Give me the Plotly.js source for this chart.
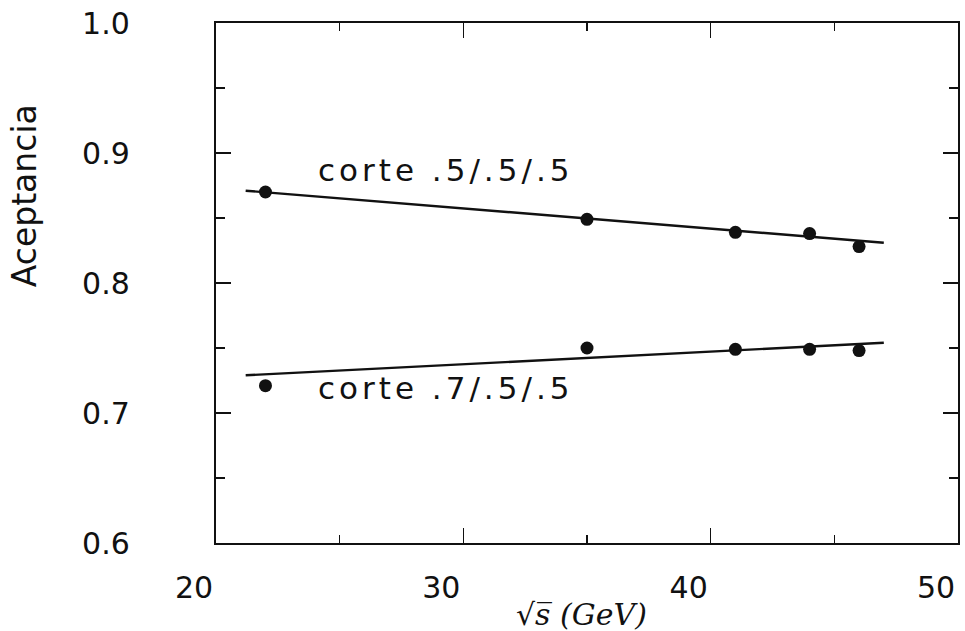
<!DOCTYPE html>
<html>
<head>
<meta charset="utf-8">
<script src="https://cdn.plot.ly/plotly-3.0.1.min.js"></script>
<style>
html,body{margin:0;padding:0;background:#fff;}
</style>
</head>
<body>
<div id="chart" style="width:965px;height:631px;"></div>
<script>
// Data
const energies = [22, 35, 41, 44, 46];
const accTop = [0.870, 0.849, 0.839, 0.838, 0.828];
const accBottom = [0.721, 0.750, 0.749, 0.749, 0.748];
const fitX = [21.2, 47.0];
const fitTop = [0.871, 0.831];
const fitBottom = [0.729, 0.754];
const labelTop = 'corte .5/.5/.5';
const labelBottom = 'corte .7/.5/.5';
const xTicks = [20, 30, 40, 50];
const yTicks = [0.6, 0.7, 0.8, 0.9, 1.0];
const yTickText = ['0.6', '0.7', '0.8', '0.9', '1.0'];

const ink = '#111';
const traces = [
  {x: fitX, y: fitTop, mode: 'lines', line: {color: ink, width: 2.4}, hoverinfo: 'skip'},
  {x: fitX, y: fitBottom, mode: 'lines', line: {color: ink, width: 2.4}, hoverinfo: 'skip'},
  {x: energies, y: accTop, mode: 'markers', marker: {color: ink, size: 13, symbol: 'circle'}},
  {x: energies, y: accBottom, mode: 'markers', marker: {color: ink, size: 13, symbol: 'circle'}}
];

const axisCommon = {
  showline: true, linecolor: ink, linewidth: 2.2, mirror: 'allticks',
  ticks: 'inside', ticklen: 15, tickwidth: 1.5, tickcolor: ink,
  showgrid: false, zeroline: false,
  tickfont: {family: 'DejaVu Sans', size: 30, color: ink}
};

const layout = {
  width: 965, height: 631,
  margin: {l: 216, r: 7, t: 23, b: 88},
  paper_bgcolor: '#fff', plot_bgcolor: '#fff',
  showlegend: false,
  xaxis: Object.assign({}, axisCommon, {
    range: [20, 50], tickvals: xTicks, ticklabelstandoff: 17, ticklabelshift: -22,
    minor: {dtick: 5, tick0: 20, ticks: 'inside', ticklen: 8, tickcolor: ink, tickwidth: 1.5}
  }),
  yaxis: Object.assign({}, axisCommon, {
    range: [0.6, 1.0], tickvals: yTicks, ticktext: yTickText, ticklabelstandoff: 78,
    minor: {dtick: 0.05, tick0: 0.6, ticks: 'inside', ticklen: 9, tickcolor: ink, tickwidth: 1.5}
  }),
  annotations: [
    {x: 25.17, y: 0.887, xref: 'x', yref: 'y', text: labelTop, showarrow: false,
     xanchor: 'left', yanchor: 'middle', font: {family: 'DejaVu Sans', size: 31, color: ink}},
    {x: 25.17, y: 0.719, xref: 'x', yref: 'y', text: labelBottom, showarrow: false,
     xanchor: 'left', yanchor: 'middle', font: {family: 'DejaVu Sans', size: 31, color: ink}},
    {x: -0.258, y: 0.668, xref: 'paper', yref: 'paper', text: 'Aceptancia', textangle: -90,
     showarrow: false, xanchor: 'center', yanchor: 'middle',
     font: {family: 'DejaVu Sans', size: 33, color: ink}},
    {x: 0.493, y: -0.138, xref: 'paper', yref: 'paper', text: '<i>√s̅ (GeV)</i>',
     showarrow: false, xanchor: 'center', yanchor: 'middle',
     font: {family: 'DejaVu Serif', size: 30, color: ink}}
  ]
};

Plotly.newPlot('chart', traces, layout, {displayModeBar: false, staticPlot: true}).then(function(){
  document.querySelectorAll('.annotation-text').forEach(function(el, i){
    if (i < 2) el.style.letterSpacing = '4px';
  });
});
</script>
</body>
</html>
